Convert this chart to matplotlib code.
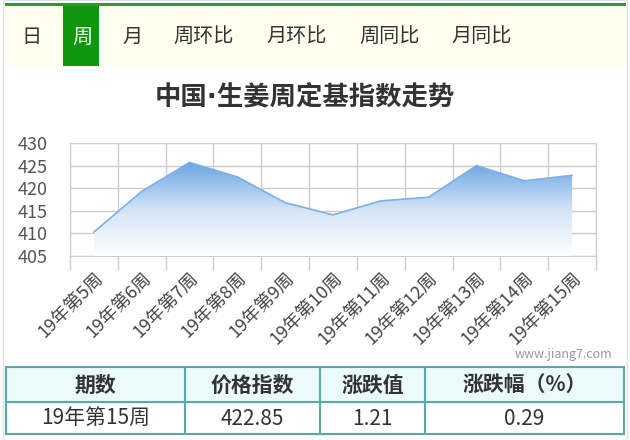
import numpy as np
import matplotlib.pyplot as plt
from matplotlib.colors import LinearSegmentedColormap
from matplotlib.patches import Rectangle

plt.rcParams['font.family'] = ['Noto Sans CJK SC', 'DejaVu Sans']

weeks = ['19年第5周', '19年第6周', '19年第7周', '19年第8周', '19年第9周', '19年第10周',
         '19年第11周', '19年第12周', '19年第13周', '19年第14周', '19年第15周']
index_values = [410.3, 419.3, 425.7, 422.5, 416.8, 414.1, 417.2, 418.0, 425.0, 421.64, 422.85]
y_ticks = [405, 410, 415, 420, 425, 430]

tabs = ['日', '周', '月', '周环比', '月环比', '周同比', '月同比']
tab_x = [31, 82, 133, 204, 297, 390, 482]
selected_tab = '周'

table_header = ['期数', '价格指数', '涨跌值', '涨跌幅（%）']
table_row = ['19年第15周', '422.85', '1.21', '0.29']
col_edges = [6, 185, 320, 425, 624]

W, H = 630, 440
fig = plt.figure(figsize=(W / 100, H / 100), dpi=100)
fig.patch.set_facecolor('white')


def fx(px):
    return px / W


def fy(py):
    return 1 - py / H


def rect(x0, y0, x1, y1, **kw):
    fig.patches.append(Rectangle((fx(x0), fy(y1)), fx(x1 - x0), (y1 - y0) / H,
                                 transform=fig.transFigure, **kw))


# frame and tab bar
rect(3, 0, 627, 440, facecolor='none', edgecolor='#e2e2e2', lw=1)
rect(5, 6, 626, 66, facecolor='#fffff0', edgecolor='none')
rect(5, 3, 626, 6, facecolor='#2a9a2a', edgecolor='none')
rect(63, 6, 99, 66, facecolor='#0f960f', edgecolor='none')
for t, x in zip(tabs, tab_x):
    fig.text(fx(x), fy(37), t, ha='center', va='center', fontsize=14.5,
             color='white' if t == selected_tab else '#333333')

# DejaVu first so the middle dot stays narrow
fig.text(fx(305), fy(97), '中国·生姜周定基指数走势', ha='center', va='center',
         fontsize=19, fontweight='bold', color='#333333',
         family=['DejaVu Sans', 'Noto Sans CJK SC'])

# chart
ax = fig.add_axes([fx(70), fy(256), fx(596 - 70), (256 - 143) / H])
x = np.arange(len(weeks))
ax.set_xlim(-0.5, len(weeks) - 0.5)
ax.set_ylim(405, 430)

grad = LinearSegmentedColormap.from_list('g', ['#ffffff', '#d3e4f8', '#6aa4e2'])
top = max(index_values)
img = ax.imshow(np.linspace(0, 1, 256).reshape(-1, 1), cmap=grad, origin='lower',
                aspect='auto', extent=[x[0], x[-1], 405, top], zorder=2)
poly = ax.fill_between(x, index_values, 405, color='none', lw=0)
clip = poly.get_paths()[0]
img.set_clip_path(clip, transform=ax.transData)
ax.plot(x, index_values, color='#7eb0e2', lw=1.2, zorder=3)

ax.set_yticks(y_ticks)
ax.set_xticks(x)
ax.set_xticklabels(weeks, rotation=45, ha='right', va='top', rotation_mode='anchor',
                   fontsize=13, color='#444444')
ax.set_xticks(np.arange(len(weeks) + 1) - 0.5, minor=True)
ax.tick_params(axis='x', which='major', length=0, pad=9)
ax.tick_params(axis='x', which='minor', length=10, color='#cccccc', width=1)
ax.tick_params(axis='y', length=0, labelsize=13, labelcolor='#555555', pad=16)
ax.grid(True, axis='y', which='major', color='#cccccc', lw=1)
ax.grid(True, axis='x', which='minor', color='#cccccc', lw=1)
for s in ax.spines.values():
    s.set_color('#cccccc')
ax.set_axisbelow(True)
ax.set_facecolor('none')

fig.text(fx(612), fy(354), 'www.jiang7.com', ha='right', va='center', fontsize=9, color='#999999')

# table
rect(col_edges[0], 367, col_edges[-1], 402, facecolor='#ebfafa', edgecolor='none')
line_c = '#5aa9a9'
for ypix in [367, 402, 434]:
    fig.add_artist(plt.Line2D([fx(col_edges[0]), fx(col_edges[-1])], [fy(ypix), fy(ypix)],
                              color=line_c, lw=1.5, transform=fig.transFigure))
for xpix in col_edges:
    fig.add_artist(plt.Line2D([fx(xpix), fx(xpix)], [fy(367), fy(434)],
                              color=line_c, lw=1.5, transform=fig.transFigure))
for i in range(len(table_header)):
    cx = (col_edges[i] + col_edges[i + 1]) / 2
    fig.text(fx(cx), fy(385), table_header[i], ha='center', va='center',
             fontsize=15, fontweight='bold', color='#333333')
    fig.text(fx(cx), fy(419), table_row[i], ha='center', va='center',
             fontsize=15, color='#333333')

fig.savefig('out.png', dpi=100)
